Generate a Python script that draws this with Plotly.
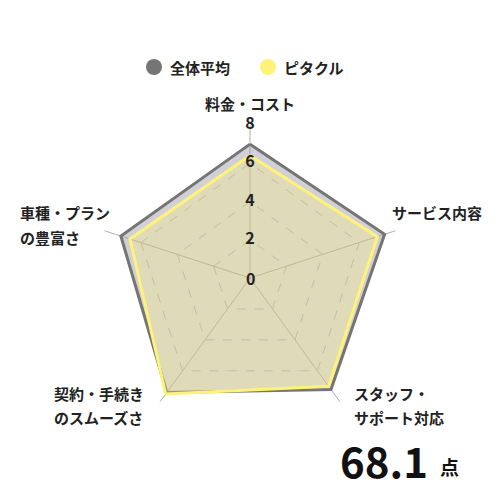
import plotly.graph_objects as go

categories = ['料金・コスト', 'サービス内容', 'スタッフ・サポート対応',
              '契約・手続きのスムーズさ', '車種・プランの豊富さ']
label_lines = [['料金・コスト'], ['サービス内容'], ['スタッフ・', 'サポート対応'],
               ['契約・手続き', 'のスムーズさ'], ['車種・プラン', 'の豊富さ']]
average = [7.0, 7.4, 7.2, 7.4, 7.1]
pitakuru = [6.4, 7.0, 7.0, 7.5, 6.6]
tick_vals = [0, 2, 4, 6, 8]
series_names = ['全体平均', 'ピタクル']
score = '68.1'
score_unit = '点'

jp_font = 'Noto Sans CJK JP'
colors = ['#757575', '#fff27a']
W = H = 500

fig = go.Figure()

fig.add_trace(go.Scatterpolar(
    r=average + average[:1], theta=categories + categories[:1],
    fill='toself', mode='lines', name=series_names[0], showlegend=False,
    line=dict(color=colors[0], width=3),
    fillcolor='rgba(140,140,150,0.4)', hoverinfo='skip'
))
fig.add_trace(go.Scatterpolar(
    r=pitakuru + pitakuru[:1], theta=categories + categories[:1],
    fill='toself', mode='lines', name=series_names[1], showlegend=False,
    line=dict(color=colors[1], width=3),
    fillcolor='rgba(255,240,120,0.3)', hoverinfo='skip'
))

# scale numbers on the top spoke (0 at the centre is added as an annotation below)
fig.add_trace(go.Scatterpolar(
    r=tick_vals[1:], theta=[categories[0]] * (len(tick_vals) - 1),
    mode='text', text=[str(v) for v in tick_vals[1:]], showlegend=False,
    textfont=dict(family=jp_font, size=16, color='#222222', weight=700),
    hoverinfo='skip', cliponaxis=False
))


def px(x, y):
    return x / W, 1 - y / H


annotations = []
shapes = []

# centre tick label
x, y = px(250, 278)
annotations.append(dict(text=str(tick_vals[0]), x=x, y=y, xref='paper', yref='paper',
                        xanchor='center', yanchor='middle', showarrow=False,
                        font=dict(family=jp_font, size=16, color='#222222', weight=700)))

# category labels (pixel anchors, left x or centre x, first line y)
label_pos = [(250, 104, 'center'), (390, 213, 'left'), (352, 393, 'left'),
             (52, 393, 'left'), (18, 213, 'left')]
for lines, (lx, ly, anchor) in zip(label_lines, label_pos):
    for i, line in enumerate(lines):
        x, y = px(lx, ly + i * 24)
        annotations.append(dict(text=line, x=x, y=y, xref='paper', yref='paper',
                                xanchor=anchor, yanchor='middle', showarrow=False,
                                font=dict(family=jp_font, size=15, color='#222222', weight=700)))

# legend row
legend_pos = [(154, 168), (268, 282)]
for name, col, (cx, tx) in zip(series_names, colors, legend_pos):
    x0, y0 = px(cx - 8, 59)
    x1, y1 = px(cx + 8, 75)
    shapes.append(dict(type='circle', xref='paper', yref='paper', x0=x0, x1=x1,
                       y0=y1, y1=y0, fillcolor=col, line=dict(width=0)))
    x, y = px(tx, 67)
    annotations.append(dict(text=name, x=x, y=y, xref='paper', yref='paper',
                            xanchor='left', yanchor='middle', showarrow=False,
                            font=dict(family=jp_font, size=15, color='#222222', weight=700)))

# score
x, y = px(384, 459)
annotations.append(dict(text=score, x=x, y=y, xref='paper', yref='paper',
                        xanchor='center', yanchor='middle', showarrow=False,
                        font=dict(family=jp_font, size=42, color='#111111', weight=700)))
x, y = px(449, 466)
annotations.append(dict(text=score_unit, x=x, y=y, xref='paper', yref='paper',
                        xanchor='center', yanchor='middle', showarrow=False,
                        font=dict(family=jp_font, size=19, color='#111111', weight=700)))

fig.update_layout(
    width=W, height=H,
    margin=dict(l=0, r=0, t=0, b=0),
    paper_bgcolor='white',
    showlegend=False,
    font=dict(family=jp_font, color='#222222'),
    polar=dict(
        domain=dict(x=[0.194, 0.806], y=[0.138, 0.75]),
        bgcolor='rgba(0,0,0,0)',
        radialaxis=dict(range=[0, 8], tickvals=tick_vals[1:], showticklabels=False,
                        showline=False, ticks='', gridcolor='#bdbdbd', griddash='dash',
                        gridwidth=1),
        angularaxis=dict(direction='clockwise', rotation=90, showline=False,
                         ticks='', showticklabels=False, gridcolor='#b3b3a6', gridwidth=1),
        gridshape='linear'
    ),
    annotations=annotations,
    shapes=shapes,
)

fig.write_html('out.html', config={'displayModeBar': False},
               post_script="document.body.style.margin='0';")
